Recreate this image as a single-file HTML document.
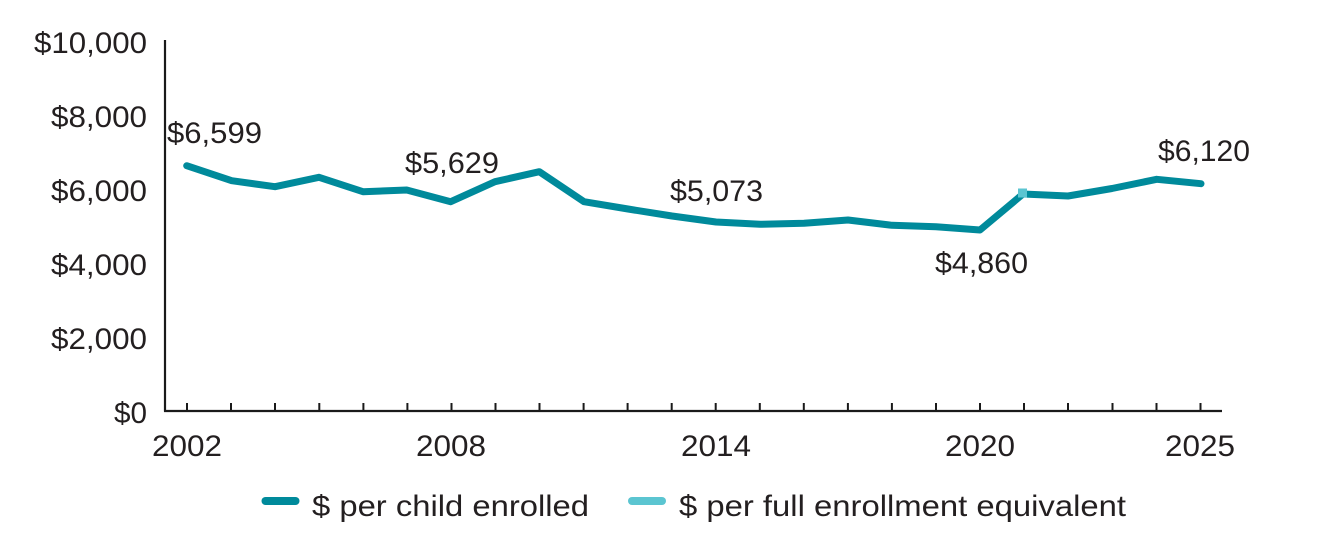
<!DOCTYPE html>
<html>
<head>
<meta charset="utf-8">
<style>
  html, body { margin: 0; padding: 0; background: #ffffff; }
  body { width: 1334px; height: 541px; overflow: hidden; }
  svg { display: block; }
  text { font-family: "Liberation Sans", "DejaVu Sans", sans-serif; fill: #231f20; font-size: 30px; }
</style>
</head>
<body>
<svg width="1334" height="541" viewBox="0 0 1334 541" xmlns="http://www.w3.org/2000/svg">
  <!-- Y axis -->
  <line x1="165" y1="40" x2="165" y2="411.5" stroke="#1a1a1a" stroke-width="2.2"/>
  <!-- X axis -->
  <line x1="164" y1="411" x2="1222" y2="411" stroke="#1a1a1a" stroke-width="2.2"/>
  <!-- ticks -->
  <g stroke="#1a1a1a" stroke-width="2">
    <line x1="187" y1="403" x2="187" y2="411"/>
    <line x1="231" y1="403" x2="231" y2="411"/>
    <line x1="275" y1="403" x2="275" y2="411"/>
    <line x1="319.3" y1="403" x2="319.3" y2="411"/>
    <line x1="363.4" y1="403" x2="363.4" y2="411"/>
    <line x1="407.4" y1="403" x2="407.4" y2="411"/>
    <line x1="451.5" y1="403" x2="451.5" y2="411"/>
    <line x1="495.5" y1="403" x2="495.5" y2="411"/>
    <line x1="539.5" y1="403" x2="539.5" y2="411"/>
    <line x1="583.6" y1="403" x2="583.6" y2="411"/>
    <line x1="627.6" y1="403" x2="627.6" y2="411"/>
    <line x1="671.7" y1="403" x2="671.7" y2="411"/>
    <line x1="715.7" y1="403" x2="715.7" y2="411"/>
    <line x1="759.8" y1="403" x2="759.8" y2="411"/>
    <line x1="803.8" y1="403" x2="803.8" y2="411"/>
    <line x1="847.9" y1="403" x2="847.9" y2="411"/>
    <line x1="891.9" y1="403" x2="891.9" y2="411"/>
    <line x1="936" y1="403" x2="936" y2="411"/>
    <line x1="980" y1="403" x2="980" y2="411"/>
    <line x1="1024" y1="403" x2="1024" y2="411"/>
    <line x1="1068" y1="403" x2="1068" y2="411"/>
    <line x1="1112.5" y1="403" x2="1112.5" y2="411"/>
    <line x1="1156.5" y1="403" x2="1156.5" y2="411"/>
    <line x1="1200.5" y1="403" x2="1200.5" y2="411"/>
  </g>

  <!-- Y labels -->
  <g text-anchor="end">
    <text x="147" y="53" textLength="113" lengthAdjust="spacingAndGlyphs">$10,000</text>
    <text x="147" y="127" textLength="96" lengthAdjust="spacingAndGlyphs">$8,000</text>
    <text x="147" y="201" textLength="96" lengthAdjust="spacingAndGlyphs">$6,000</text>
    <text x="147" y="275" textLength="96" lengthAdjust="spacingAndGlyphs">$4,000</text>
    <text x="147" y="349" textLength="96" lengthAdjust="spacingAndGlyphs">$2,000</text>
    <text x="147" y="423" textLength="33" lengthAdjust="spacingAndGlyphs">$0</text>
  </g>

  <!-- X labels -->
  <g>
    <text x="152" y="456" textLength="70" lengthAdjust="spacingAndGlyphs">2002</text>
    <text x="416" y="456" textLength="70" lengthAdjust="spacingAndGlyphs">2008</text>
    <text x="681" y="456" textLength="70" lengthAdjust="spacingAndGlyphs">2014</text>
    <text x="945" y="456" textLength="70" lengthAdjust="spacingAndGlyphs">2020</text>
    <text x="1165" y="456" textLength="70" lengthAdjust="spacingAndGlyphs">2025</text>
  </g>

  <!-- data line -->
  <polyline fill="none" stroke="#008a9b" stroke-width="7" stroke-linejoin="round" stroke-linecap="round"
    points="186.7,165.7 231.7,180.7 275,186.7 319,177.3 363,191.7 406.7,190 450.7,201.7 495,181.7 539.3,171.7 584,201.7 628,209 672,216 716,222 760,224.3 804,223.3 848,220 892,225.3 936,226.7 980,230 1023,194 1068,196 1112,188.5 1156.7,179.3 1201,183.7"/>
  <!-- full enrollment equivalent marker -->
  <rect x="1018" y="188.5" width="9" height="9" fill="#5bc5d1"/>

  <!-- data labels -->
  <g>
    <text x="167" y="143" textLength="95" lengthAdjust="spacingAndGlyphs">$6,599</text>
    <text x="405" y="173" textLength="94" lengthAdjust="spacingAndGlyphs">$5,629</text>
    <text x="670" y="201" textLength="93" lengthAdjust="spacingAndGlyphs">$5,073</text>
    <text x="935" y="273" textLength="93" lengthAdjust="spacingAndGlyphs">$4,860</text>
    <text x="1158" y="161" textLength="92" lengthAdjust="spacingAndGlyphs">$6,120</text>
  </g>

  <!-- legend -->
  <line x1="265.5" y1="501" x2="295.5" y2="501" stroke="#008a9b" stroke-width="8" stroke-linecap="round"/>
  <text x="312" y="516" textLength="277" lengthAdjust="spacingAndGlyphs">$ per child enrolled</text>
  <line x1="632" y1="501" x2="662" y2="501" stroke="#5bc5d1" stroke-width="8" stroke-linecap="round"/>
  <text x="679" y="516" textLength="447" lengthAdjust="spacingAndGlyphs">$ per full enrollment equivalent</text>
</svg>
</body>
</html>
